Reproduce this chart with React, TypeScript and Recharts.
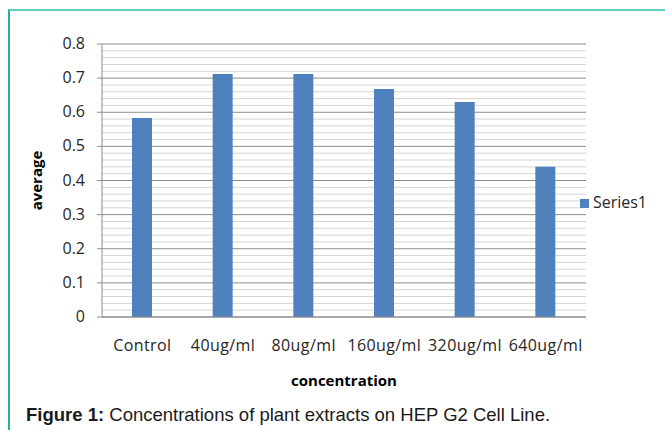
import React from "react";
import { BarChart, Bar, XAxis, YAxis, CartesianGrid, Legend, Label } from "recharts";

const categories = ["Control", "40ug/ml", "80ug/ml", "160ug/ml", "320ug/ml", "640ug/ml"];
const averages = [0.583, 0.712, 0.712, 0.668, 0.63, 0.44];
const majorTicks = [0, 0.1, 0.2, 0.3, 0.4, 0.5, 0.6, 0.7, 0.8];
// minor gridlines every 0.02, labels only on the majors
const gridTicks = Array.from({ length: 41 }, (_, i) => +(i * 0.02).toFixed(2));

const data = categories.map((name, i) => ({ name, Series1: averages[i] }));

const FONT = "'Open Sans', sans-serif";
const isMajor = (v: number) => majorTicks.some((t) => Math.abs(t - v) < 1e-6);

const YTick = (props: any) => {
  const { x, y, payload } = props;
  if (!isMajor(payload.value)) return <g />;
  return (
    <g>
      <line x1={x - 5} x2={x} y1={y} y2={y} stroke="#8c8c8c" />
      <text x={x - 17} y={y} dy={5} textAnchor="end" fontFamily={FONT} fontSize={16} fill="#262626">
        {payload.value}
      </text>
    </g>
  );
};

const gridLine = (p: any) => (
  <line
    key={p.key}
    x1={p.x1}
    x2={p.x2}
    y1={p.y1}
    y2={p.y2}
    stroke={p.index % 5 === 0 ? "#8c8c8c" : "#d4d4d4"}
    strokeWidth={1}
  />
);

const App: React.FC = () => {
  return (
    <div style={{ position: "fixed", left: 0, top: 0, width: 665, height: 430, background: "#fff", overflow: "hidden" }}>
      <div
        style={{
          position: "absolute",
          left: 8,
          top: 9,
          width: 680,
          height: 440,
          borderTop: "2px solid #5ccfbf",
          borderLeft: "2px solid #22b39f",
        }}
      />
      {/* legend width (90) gets added to the right offset, so the margin compensates */}
      <BarChart
        width={665}
        height={430}
        data={data}
        margin={{ top: 44, right: -11, left: 20, bottom: 38 }}
        barSize={20}
        style={{ position: "absolute", left: 0, top: 0 }}
      >
        <CartesianGrid vertical={false} horizontal={gridLine} />
        <XAxis
          dataKey="name"
          height={75}
          tickLine={false}
          tickMargin={17}
          axisLine={{ stroke: "#8c8c8c" }}
          tick={{ fontFamily: FONT, fontSize: 16, fill: "#262626", letterSpacing: 0.4 }}
          interval={0}
        >
          <Label
            value="concentration"
            position="insideBottom"
            offset={6}
            style={{ fontFamily: FONT, fontSize: 15, fontWeight: 700, fill: "#000" }}
          />
        </XAxis>
        <YAxis
          width={82}
          domain={[0, 0.8]}
          ticks={gridTicks}
          interval={0}
          tickLine={false}
          tickSize={0}
          tickMargin={0}
          axisLine={{ stroke: "#8c8c8c" }}
          tick={YTick}
        >
          <Label
            content={(p: any) => {
              const vb = p.viewBox;
              const cx = vb.x + 16;
              const cy = vb.y + vb.height / 2;
              return (
                <text
                  x={cx}
                  y={cy}
                  transform={`rotate(-90 ${cx} ${cy})`}
                  textAnchor="middle"
                  dominantBaseline="central"
                  fontFamily={FONT}
                  fontSize={15}
                  fontWeight={700}
                  fill="#000"
                >
                  average
                </text>
              );
            }}
          />
        </YAxis>
        <Legend
          layout="horizontal"
          verticalAlign="middle"
          align="right"
          iconType="square"
          iconSize={9}
          wrapperStyle={{ left: 567, top: 191, width: 90, height: 24, fontFamily: FONT, fontSize: 16 }}
          formatter={(v) => <span style={{ color: "#262626" }}>{v}</span>}
        />
        <Bar dataKey="Series1" fill="#4f81bd" isAnimationActive={false} />
      </BarChart>
      <div
        style={{
          position: "absolute",
          left: 26,
          top: 404,
          fontFamily: "'Liberation Sans', Arial, sans-serif",
          fontSize: 18.5,
          color: "#1a1a1a",
          whiteSpace: "nowrap",
        }}
      >
        <b>Figure 1:</b> Concentrations of plant extracts on HEP G2 Cell Line.
      </div>
    </div>
  );
};

export default App;
